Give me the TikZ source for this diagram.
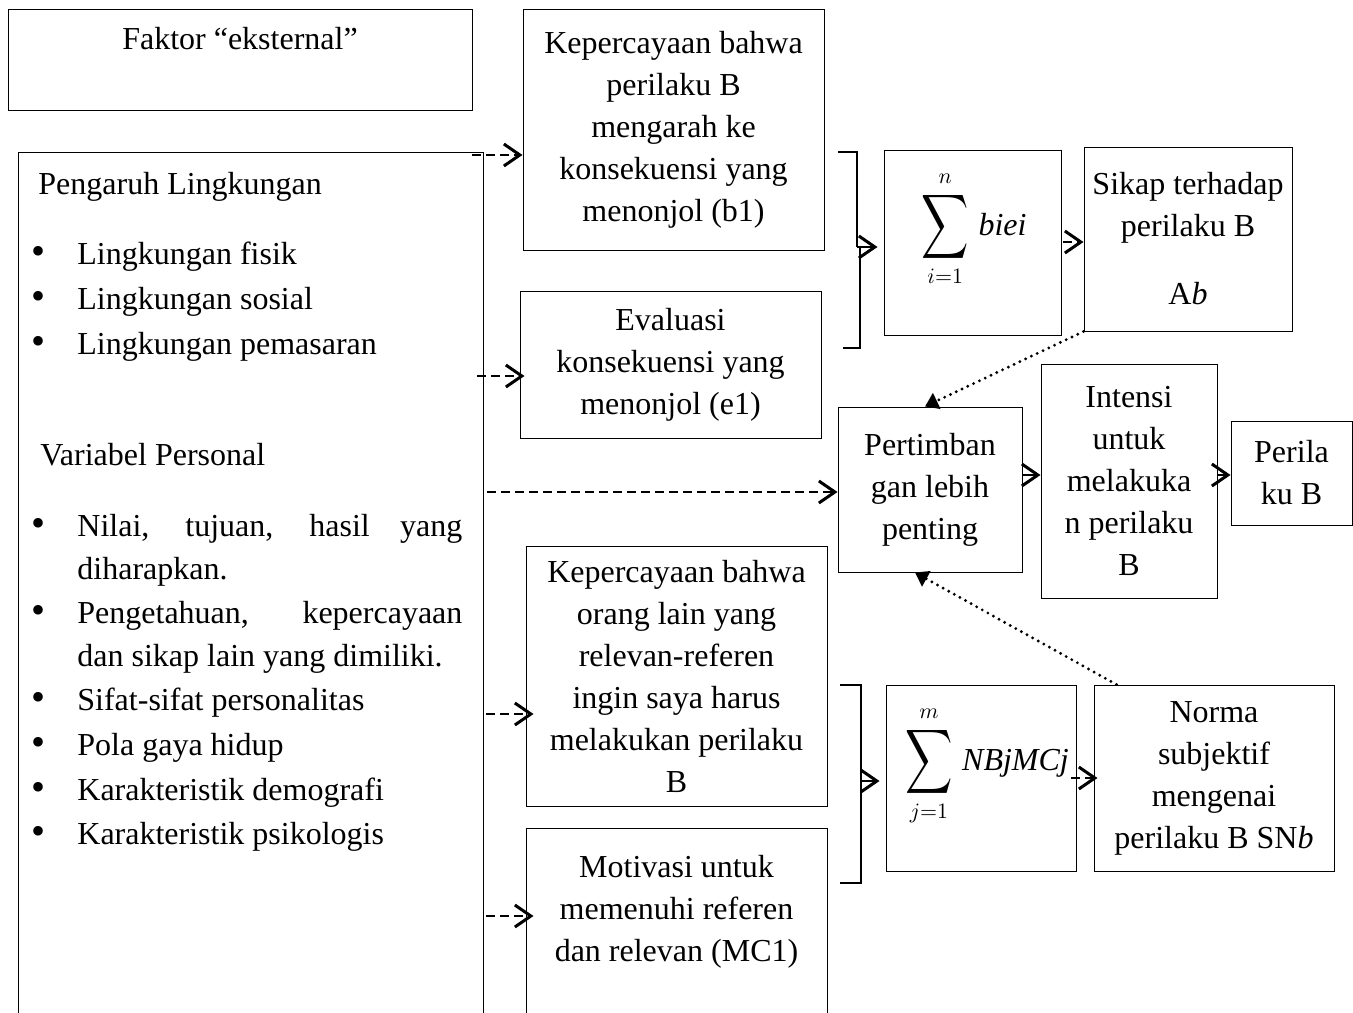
\documentclass[tikz,border=0pt]{standalone}
\usepackage{amsmath}
\usepackage{fontspec}
\setmainfont{Liberation Serif}
\usepackage{graphicx}
\usetikzlibrary{arrows.meta}

\newcommand{\blt}{\llap{\scalebox{1.25}{\textbullet}\hspace{16pt}}}
\newcommand{\bigsum}{\mathop{\vcenter{\hbox{\scalebox{0.95}[1.3]{$\displaystyle\sum$}}}}\limits}

\tikzset{
  box/.style={draw, line width=0.5pt, align=center, inner sep=0pt},
  txt/.style={anchor=base west, inner sep=0pt},
  dasharr/.style={line width=1.3pt, dash pattern=on 4.5pt off 2.5pt,
    -{Straight Barb[length=8pt,width=11pt,line width=1.5pt]}},
  solarr/.style={line width=1.2pt,
    -{Straight Barb[length=8pt,width=11pt,line width=1.5pt]}},
  dotarr/.style={line width=1.6pt, line cap=round, dash pattern=on 0pt off 3.2pt,
    -{Triangle[length=6.5pt,width=8.5pt]}},
  brk/.style={line width=1pt},
}

\begin{document}
\begin{tikzpicture}[x=0.5pt, y=-0.5pt, font=\fontsize{16}{21}\selectfont]
  \useasboundingbox (0,0) rectangle (1353,1012);

  % Left column
  \node[box, minimum width=232pt, minimum height=50.5pt] (faktor) at (240,59.5)
    {Faktor ``eksternal''\\ \mbox{}};
  \node[box, minimum width=232.5pt, minimum height=439pt] (env) at (250.5,591) {};

  \node[txt] (pl) at (38,194) {Pengaruh Lingkungan};
  \node[txt] (l1) at (77,264) {\blt Lingkungan fisik};
  \node[txt] (l2) at (77,309) {\blt Lingkungan sosial};
  \node[txt] (l3) at (77,354) {\blt Lingkungan pemasaran};

  \node[txt] (vp) at (40,465) {Variabel Personal};
  \node[txt] (p1) at (77,536) {\blt\makebox[192.5pt][s]{Nilai, tujuan, hasil yang}};
  \node[txt] (p1b) at (77,579) {diharapkan.};
  \node[txt] (p2) at (77,623) {\blt\makebox[192.5pt][s]{Pengetahuan, kepercayaan}};
  \node[txt] (p2b) at (77,666) {dan sikap lain yang dimiliki.};
  \node[txt] (p3) at (77,710) {\blt Sifat-sifat personalitas};
  \node[txt] (p4) at (77,755) {\blt Pola gaya hidup};
  \node[txt] (p5) at (77,800) {\blt Karakteristik demografi};
  \node[txt] (p6) at (77,844) {\blt Karakteristik psikologis};

  % Beliefs and evaluations
  \node[box, minimum width=150.5pt, minimum height=120.5pt] (kb) at (673.5,129.5)
    {Kepercayaan bahwa\\perilaku B\\mengarah ke\\konsekuensi yang\\menonjol (b1)};
  \node[box, minimum width=150.5pt, minimum height=73.5pt] (ev) at (670.5,364.5)
    {Evaluasi\\konsekuensi yang\\menonjol (e1)};
  \node[box, minimum width=150.5pt, minimum height=130pt] (nb) at (676.5,676)
    {Kepercayaan bahwa\\orang lain yang\\relevan-referen\\ingin saya harus\\melakukan perilaku\\B};
  \node[box, minimum width=150.5pt, minimum height=101pt, anchor=north] (mc) at (676.5,828)
    {Motivasi untuk\\memenuhi referen\\dan relevan (MC1)\\ \mbox{}};

  % Sums
  \node[box, minimum width=88.5pt, minimum height=92.5pt] (s1) at (972.5,242.5) {};
  \node[inner sep=0pt] (s1t) at (974,229) {$\bigsum_{i=1}^{n}\mkern2mu \textit{biei}$};
  \node[box, minimum width=95pt, minimum height=93pt] (s2) at (981,778) {};
  \node[inner sep=0pt] (s2t) at (987,766) {$\bigsum_{j=1}^{m}\mkern2mu \textit{NBjMCj}$};

  % Attitude, norm, intention
  \node[box, minimum width=104pt, minimum height=92pt] (sikap) at (1188,239)
    {Sikap terhadap\\perilaku B\\[13pt]A\textit{b}};
  \node[box, minimum width=120pt, minimum height=93pt] (norma) at (1214,778)
    {Norma\\subjektif\\mengenai\\perilaku B SN\textit{b}};
  \node[box, minimum width=92pt, minimum height=82.5pt] (pert) at (930,489.5)
    {Pertimban\\gan lebih\\penting};
  \node[box, minimum width=88pt, minimum height=117pt] (intensi) at (1129,481)
    {Intensi\\untuk\\melakuka\\n perilaku\\B};
  \node[box, minimum width=60.5pt, minimum height=52pt] (peril) at (1291.5,473)
    {Perila\\ku B};

  % Brackets
  \draw[brk] (838,152) -- (857,152) -- (857,247);
  \draw[brk] (860,247) -- (860,348) -- (843,348);
  \draw[brk] (840,685) -- (861,685) -- (861,883) -- (840,883);
  \coordinate (br1) at (857,247);
  \coordinate (br2) at (861,781);
  \draw[solarr, shorten >=3pt] (br1) -- (s1.west |- br1);
  \draw[solarr, shorten >=3pt] (br2) -- (s2.west |- br2);

  % Dashed arrows from the left box
  \coordinate (a1) at (472,155);
  \coordinate (a2) at (477,376);
  \coordinate (a3) at (487,492);
  \coordinate (a4) at (486,714);
  \coordinate (a5) at (486,916);
  \draw[dasharr] (a1) -- (kb.west |- a1);
  \draw[dasharr, shorten >=-2.5pt] (a2) -- (ev.west |- a2);
  \draw[dasharr] (a3) -- (pert.west |- a3);
  \draw[dasharr, shorten >=-4pt] (a4) -- (nb.west |- a4);
  \draw[dasharr, shorten >=-4pt] (a5) -- (mc.west |- a5);

  % Sums to attitude and norm
  \coordinate (c1) at (1063,242);
  \coordinate (c2) at (1071,778);
  \draw[dasharr] (c1) -- (sikap.west |- c1);
  \draw[dasharr, shorten >=-2pt] (c2) -- (norma.west |- c2);

  % Towards behaviour
  \coordinate (c3) at (1022,475);
  \draw[solarr] (c3) -- (intensi.west |- c3);
  \draw[solarr] (intensi.east |- c3) -- (peril.west |- c3);

  % Dotted feedback
  \draw[dotarr] (sikap.south west) -- ([xshift=-2.5pt]pert.north);
  \draw[dotarr] ([xshift=11.5pt]norma.north west) -- ([xshift=-7.5pt]pert.south);
\end{tikzpicture}
\end{document}
